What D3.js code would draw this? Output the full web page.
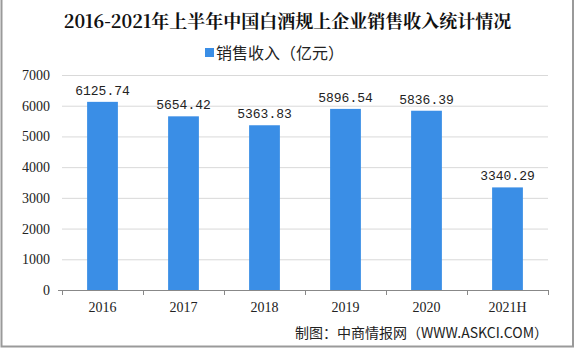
<!DOCTYPE html>
<meta charset="utf-8">
<head>
<style>
  body { margin: 0; background: #fff; }
  svg { display: block; }
  .grid line { stroke: #d9d9d9; }
  .num { font-family: "Liberation Mono", "DejaVu Sans Mono", monospace; font-size: 13px; fill: #222; }
  .tick text { font-family: "Liberation Serif", serif; font-size: 14px; fill: #222; }
</style>
<script src="https://d3js.org/d3.v7.min.js"></script>
</head>
<body>
<script>
var categories = ["2016", "2017", "2018", "2019", "2020", "2021H"];
var revenue = [6125.74, 5654.42, 5363.83, 5896.54, 5836.39, 3340.29];
var yTicks = [0, 1000, 2000, 3000, 4000, 5000, 6000, 7000];
var title = "2016-2021年上半年中国白酒规上企业销售收入统计情况";
var legendLabel = "销售收入（亿元）";
var source = "制图：中商情报网（WWW.ASKCI.COM）";

var W = 575, H = 350;
var margin = {top: 75, right: 27, bottom: 60, left: 62};
var width = W - margin.left - margin.right,
    height = H - margin.top - margin.bottom;

var svg = d3.select("body").append("svg")
    .attr("width", W).attr("height", H);

// frame
svg.append("rect").attr("x", 1.5).attr("y", -2).attr("width", W - 3.5).attr("height", H - 1.5)
    .attr("fill", "none").attr("stroke", "#9a9a9a").attr("stroke-width", 2);

svg.append("text").attr("x", W / 2).attr("y", 28).attr("text-anchor", "middle")
    .style("font-family", "'Noto Serif CJK SC', 'Noto Sans CJK SC', serif")
    .style("font-weight", "bold").style("font-size", "18px").attr("fill", "#111")
    .text(title);

// legend
svg.append("rect").attr("x", 205).attr("y", 48).attr("width", 9).attr("height", 9).attr("fill", "#3a8ee6");
svg.append("text").attr("x", 216).attr("y", 59)
    .style("font-family", "'Noto Sans CJK SC', sans-serif").style("font-size", "16px").attr("fill", "#222")
    .text(legendLabel);

var g = svg.append("g").attr("transform", "translate(" + margin.left + "," + margin.top + ")");

var x = d3.scaleBand().domain(categories).range([0, width]).paddingInner(0.62).paddingOuter(0.31);
var y = d3.scaleLinear().domain([0, 7000]).range([height, 0]);

g.append("g").attr("class", "grid")
  .selectAll("line").data(yTicks.slice(1)).enter().append("line")
    .attr("x1", 0).attr("x2", width)
    .attr("y1", function(d) { return y(d) + 0.5; })
    .attr("y2", function(d) { return y(d) + 0.5; });

var yAxis = g.append("g")
    .call(d3.axisLeft(y).tickValues(yTicks).tickFormat(d3.format("d")).tickSize(0).tickPadding(12));
yAxis.select(".domain").remove();

g.selectAll(".bar").data(revenue).enter().append("rect")
    .attr("class", "bar")
    .attr("x", function(d, i) { return x(categories[i]); })
    .attr("width", x.bandwidth())
    .attr("y", function(d) { return y(d); })
    .attr("height", function(d) { return height - y(d); })
    .attr("fill", "#3a8ee6");

g.selectAll(".num").data(revenue).enter().append("text")
    .attr("class", "num")
    .attr("x", function(d, i) { return x(categories[i]) + x.bandwidth() / 2; })
    .attr("y", function(d) { return y(d) - 7; })
    .attr("text-anchor", "middle")
    .text(function(d) { return d.toFixed(2); });

// x axis with boundary ticks
var step = width / categories.length;
var xAxis = g.append("g").attr("transform", "translate(0," + height + ")");
xAxis.append("line").attr("x1", -4).attr("x2", width).attr("y1", 0.5).attr("y2", 0.5).attr("stroke", "#888");
xAxis.selectAll(".bt").data(d3.range(categories.length + 1)).enter().append("line")
    .attr("x1", function(d) { return d * step + 0.5; }).attr("x2", function(d) { return d * step + 0.5; })
    .attr("y1", 0).attr("y2", 5).attr("stroke", "#888");
xAxis.selectAll(".xl").data(categories).enter().append("text")
    .attr("x", function(d) { return x(d) + x.bandwidth() / 2; })
    .attr("y", 22).attr("text-anchor", "middle")
    .style("font-family", "'Liberation Serif', serif").style("font-size", "14px").attr("fill", "#222")
    .text(function(d) { return d; });

svg.append("text").attr("x", 548).attr("y", 338).attr("text-anchor", "end")
    .style("font-family", "'Noto Sans CJK SC', sans-serif").style("font-size", "14px").attr("fill", "#222")
    .text(source);
</script>
</body>
